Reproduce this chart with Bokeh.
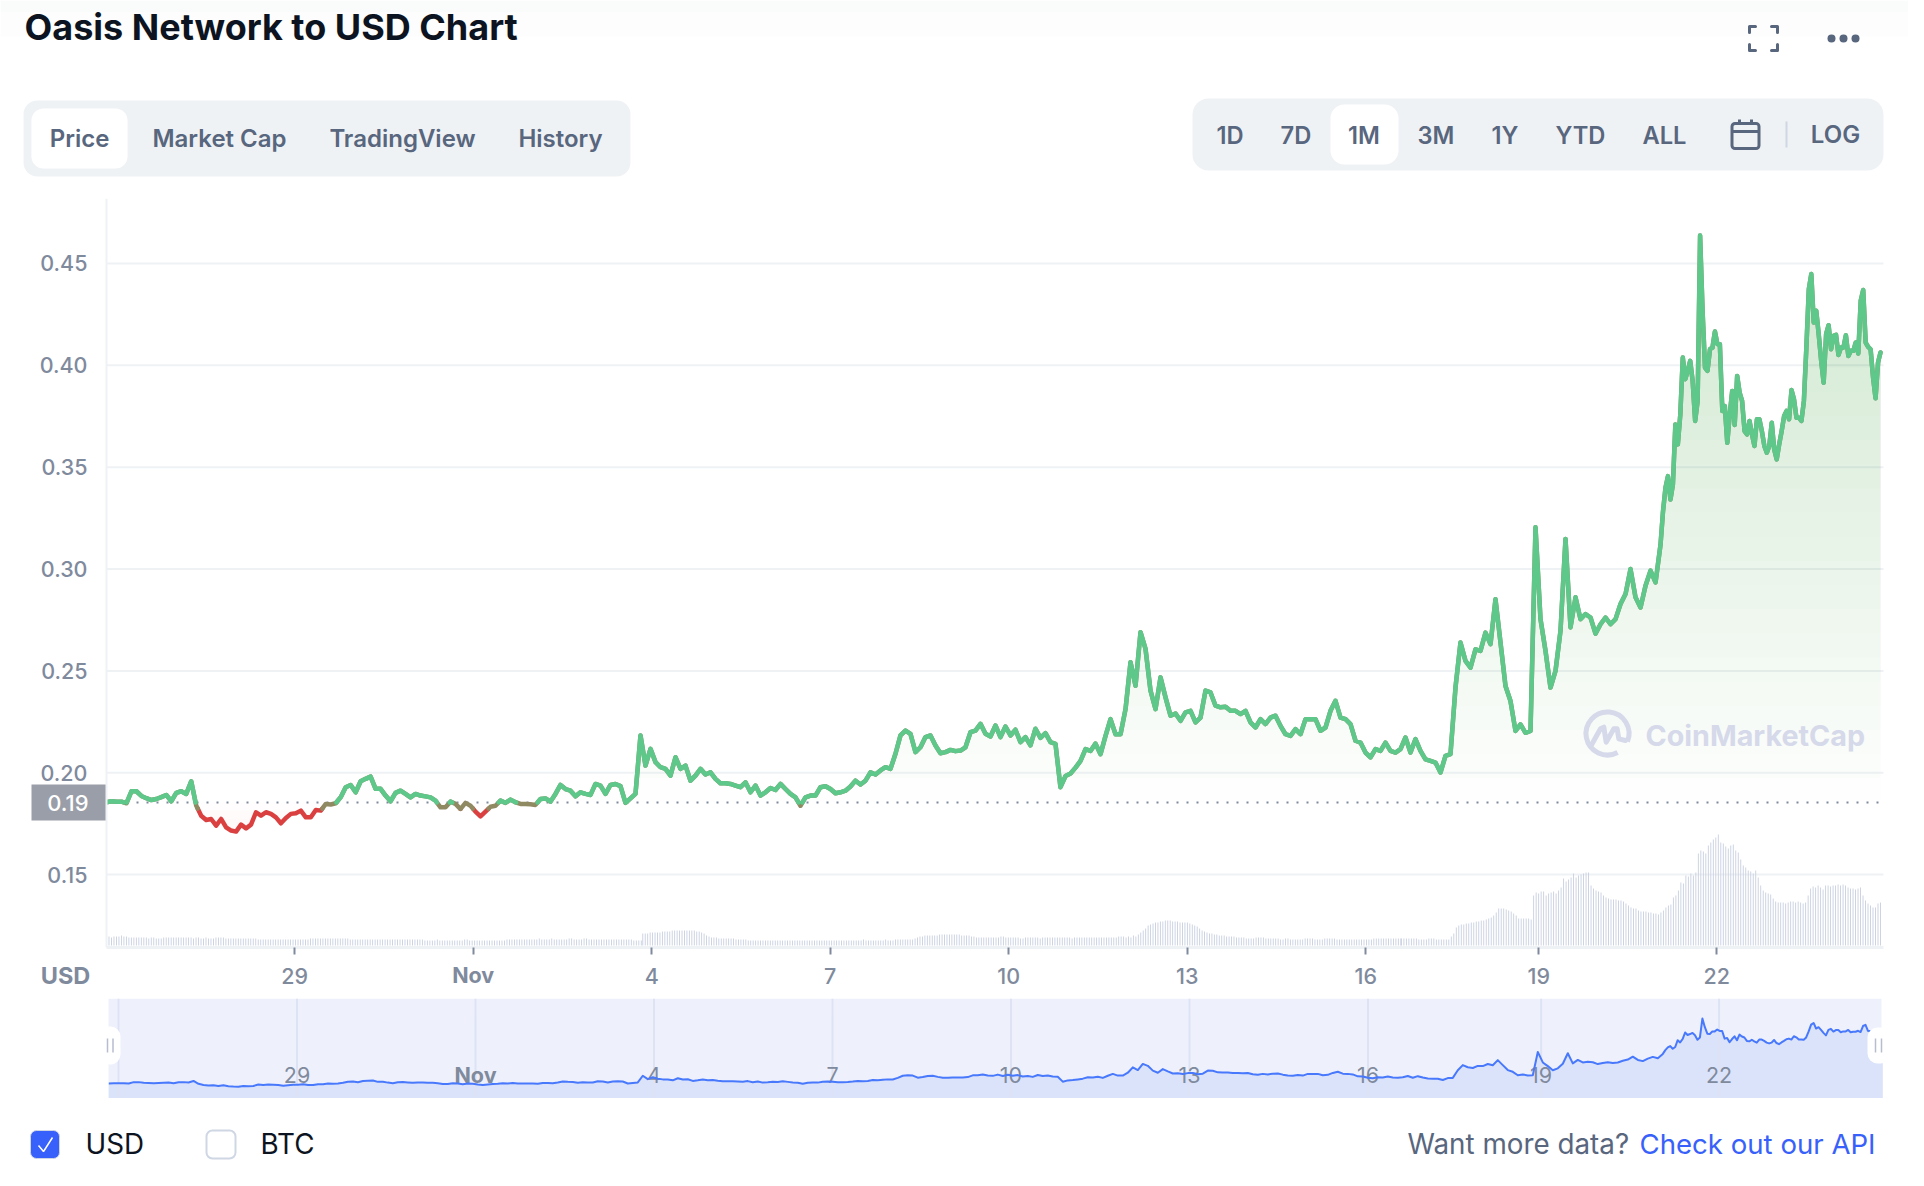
from bokeh.plotting import figure
from bokeh.layouts import column
from bokeh.models import Range1d, FixedTicker, NumeralTickFormatter
from bokeh.core.properties import value
from bokeh.embed import file_html
from bokeh.resources import INLINE
import numpy as np

# ---------- data ----------
title = "Oasis Network to USD Chart"
tabs = ["Price", "Market Cap", "TradingView", "History"]
ranges = ["1D", "7D", "1M", "3M", "1Y", "YTD", "ALL"]
y_ticks = [0.15, 0.20, 0.25, 0.30, 0.35, 0.40, 0.45]
x_ticks = [-3, 0, 3, 6, 9, 12, 15, 17.91, 20.90]          # days from 1 Nov
x_labels = ["29", "Nov", "4", "7", "10", "13", "16", "19", "22"]
base_price = 0.1854

price_a = [.1855,.1860,.1857,.1858,.1850,.1909,.1909,.1886,.1875,.1866,.1871,.1880,.1891,.1860,.1901,.1909,.1896,.1958,.1839,.1789,
 .1768,.1773,.1740,.1773,.1732,.1716,.1711,.1745,.1727,.1745,.1806,.1789,.1806,.1798,.1781,.1752,.1778,.1798,.1801,.1814,
 .1781,.1781,.1817,.1814,.1847,.1844,.1850,.1880,.1929,.1940,.1904,.1958,.1970,.1981,.1921,.1921,.1888,.1860,.1901,.1912,.1896]
price_b = [.1879,.1896,.1888,.1884,.1879,.1863,.1830,.1830,.1858,.1847,.1822,.1852,.1838,.1809,.1786,.1809,.1833,.1838,.1863,.1852,
 .1868,.1855,.1847,.1847,.1845,.1842,.1871,.1874,.1858,.1896,.1940,.1920,.1912,.1884,.1904,.1896,.1891,.1945,.1937,.1896,
 .1940,.1945,.1934,.1852,.1874,.1896,.2183,.2035,.2117,.2052,.2027,.2019,.1986,.2076,.2019,.2035,.1961,.1986,.2019]
price_c = [.1991,.2002,.1970,.1948,.1948,.1945,.1937,.1929,.1953,.1904,.1937,.1888,.1904,.1925,.1915,.1945,.1920,.1896,.1879,.1838,
 .1879,.1888,.1888,.1929,.1934,.1920,.1899,.1904,.1912,.1932,.1961,.1942,.1961,.2002,.1991,.2011,.2027,.2019,.2093,.2183,
 .2207,.2191,.2101,.2125,.2175,.2183,.2134,.2096,.2101,.2112,.2106,.2109,.2125,.2199,.2207,.2240,.2191,.2178,.2232,.2175,
 .2227,.2183,.2211,.2150,.2175,.2134,.2216,.2171,.2194,.2150,.2142,.1929]
price_d = [.1984,.1996,.2025,.2058,.2116,.2107,.2143,.2091,.2181,.2263,.2189,.2189,.2312,.2542,.2427,.2690,.2608,.2403,.2312,.2468,
 .2370,.2280,.2291,.2255,.2296,.2304,.2247,.2271,.2403,.2394,.2329,.2321,.2324,.2304,.2304,.2288,.2304,.2247,.2222,.2263,
 .2239,.2271,.2280,.2230,.2189,.2181,.2214,.2189,.2263,.2263,.2263,.2206,.2222,.2304,.2353,.2271,.2263,.2239,.2157,.2148,
 .2099,.2075,.2116,.2107,.2148,.2107,.2099,.2116,.2173,.2099,.2165,.2107,.2066,.2058,.2050,.2001,.2083,.2091]
price_e = [.2418,.2639,.2549,.2516,.2606,.2598,.2688,.2631,.2852,.2639,.2426,.2352,.2205,.2237,.2196,.2205,.3205,.2754,.2598,.2418,
 .2500,.2697,.3148,.2713,.2861,.2754,.2779,.2762,.2683,.2729,.2762,.2729,.2754,.2828,.2877,.3000,.2861,.2811,.2918,.2992,
 .2934,.3120]
price_f = [.3284,.3399,.3456,.3341,.3415,.3710,.3612,.3759,.4038,.3932,.3973,.4022,.3923,.3727,.3825,.4637,.4268,.3989,.3973,.4079,
 .4087,.4166,.4104,.4104,.3776,.3800,.3620,.3759,.3874,.3707,.3948,.3866,.3825,.3677,.3661,.3727,.3661,.3604,.3735,.3735,
 .3677,.3604,.3571,.3604,.3718,.3587,.3538,.3612,.3677,.3751,.3776,.3735,.3879,.3833,.3743,.3743,.3727,.3825,.4087,.4374,
 .4448,.4210,.4268,.4153,.4022,.3915,.4153,.4197,.4079,.4145,.4150,.4051,.4087,.4087,.4148,.4046,.4071,.4071,.4112,.4058,
 .4317,.4370,.4112,.4091,.4079,.3940,.3838,.4014,.4063]
price_segments = [price_a, price_b, price_c, price_d, price_e, price_f]
segment_days = [(-6.163,-1.138), (-1.054,3.820), (3.904,9.870), (9.955,16.425), (16.509,19.955), (19.997,23.652)]

vol_a = [9,9,8,9,9,9,10,9,9,8,8,8,8,8,8,8,8,7,8,8,7,7,7,8,8,8,8,8,8,8,8,8,8,8,8,7,8,8,7,7,8,7,7,7,8,8,8,8,7,7,7,7,7,7,7,7,7,7,
 7,7,7,6,6,6,6,6,6,6,6,6,6,6,6,6,6,6,6,6,6,6,6,6,7,7,7,7,7,7,7,7,7,7,7,7,7,7,7,7,6,6,6,6,6,6,6,6,6,6,6,6,6,6,6,6,6,6,6,6,6,6,6,6,6,6,6,6,6,6,
 5,5,5,5,5,6,5,5,5,5,5,5,5,5,5,5,6,6,5,5,5,5,5,5,5,5,5,5,5,5,5,5,5,6,6,6,6,6,6,6,6,6,6,6,6,6,7,6,6,6,6,7,6,6,6,6,6,6,7,7,6,6,6,6,7,7,6,6,6,6,6,6,6,6,6,6,6,6,6,6,6,6,6,6,5,5,5,5]
vol_b = [12,12,12,13,13,13,13,13,14,14,14,14,15,15,15,15,15,15,15,15,15,15,14,14,
 13,12,10,9,8,8,8,7,7,7,7,7,7,7,6,6,6,6,6,5,
 5,5,5,5,5,5,5,5,5,5,5,5,5,5,5,5,5,5,5,5,5,5,5,5,5,5,5,5,5,5,5,5,5,5,5,5,5,5,5,5,5,5,5,5,5,5,6,5,5,5,5,5,5,5,5,6,5,5,5,6,6,6,6,6,6,6,
 6,7,8,9,9,10,10,10,10,10,10,11,11,11,11,11,11,11,11,11,10,10,10,10,
 9,9,8,8,8,8,8,8,8,8,8,8,9,9,8,8,8,8,8,8,7,7,8,8,8,8,8,8,7,8,8,8,8,8,8,8,8,8,8,8,8,7,8,8,8,8,8,8,8,8,8,8,8,8,8,8,8,8,8,8,
 9,9,9,8,9,8,10,9,11,13,15,17,20,21,22,23,23,24,24,25,
 25,25,24,24,24,23,23,23,23,22,21,20,19,17,15,14,13,12,12,11,11,10,10,10,9,9,9,9,8,8,8,8,
 7,7,7,7,8,8,8,8,7,7,7,7,7,7,6,6,7,7,6,6,6,6,6,6,7,7,7,7,6,6,6,6,7,7,7,7,7,6,6,6,6,6,6,6,6,6,6,6,6,6,6,6,7,7,7,7,7,7,7,7,7,7,7,7]
vol_c = [7,7,7,7,7,7,7,6,6,6,6,7,7,7,6,6,6,6,6,6,
 9,12,18,20,21,21,22,22,23,23,24,24,25,25,26,27,28,30,33,37,37,37,36,35,34,32,30,27,27,27,27,27,26,
 50,53,52,54,54,50,52,53,54,52,55,58,67,64,66,68,72,68,70,71,72,73,73,60,57,55,54,53,50,48,
 47,46,46,46,45,45,44,42,40,38,37,37,35,34,34,34,33,33,32,32,31,33,35,38,40,41,48,50,55,63,62,70,69,
 72,70,73,92,95,94,92,100,103,106,108,111,103,102,99,97,100,101,95,93,86,80,78,75,74,72,75,68,60,55,
 53,52,51,47,44,43,43,43,42,43,44,44,43,44,43,42,43,50,57,59,58,60,58,56,60,
 60,59,60,60,61,60,61,60,58,57,57,56,57,58,50,45,42,40,38,38,42,43]
volume_segments = [vol_a, vol_b, vol_c]
volume_days = [(-6.163,2.825), (2.85,15.59), (15.6,23.652)]

# ---------- page geometry helpers (decoration only) ----------
INK, SLATE, GREY, PILL = "#0d1421", "#58667e", "#808a9d", "#eff2f5"
BLUE = "#3861fb"
FONT, MED, SEMI = "Inter", "Inter Medium", "Inter SemiBold"
W = 1908

def day_main(px): return (px - 472.7) / 59.5
def val_main(py): return 0.5791 - py / 2037
def day_nav(px): return (px - 475.0) / 59.5
def val_nav(py): return 0.185 + (1083 - py) / 233

price_x = np.concatenate([np.linspace(a, b, len(s)) for s, (a, b) in zip(price_segments, segment_days)])
price_y = np.concatenate([np.array(s) for s in price_segments])
vol_x = np.concatenate([np.linspace(a, b, len(s)) for s, (a, b) in zip(volume_segments, volume_days)])
vol_y = np.concatenate([np.array(s, dtype=float) for s in volume_segments])

def split_at_base(x, y, base):
    up_x, up_y, dn_x, dn_y = [], [], [], []
    cx, cy = [x[0]], [y[0]]
    above = y[0] >= base
    for i in range(1, len(x)):
        now = y[i] >= base
        if now != above:
            t = (base - y[i-1]) / (y[i] - y[i-1])
            xc = x[i-1] + t * (x[i] - x[i-1])
            cx.append(xc); cy.append(base)
            (up_x if above else dn_x).append(cx); (up_y if above else dn_y).append(cy)
            cx, cy = [xc], [base]
            above = now
        cx.append(x[i]); cy.append(y[i])
    (up_x if above else dn_x).append(cx); (up_y if above else dn_y).append(cy)
    return up_x, up_y, dn_x, dn_y

def blank(width, height, x_range, y_range):
    f = figure(width=width, height=height, x_range=x_range, y_range=y_range, output_backend="svg",
               toolbar_location=None, min_border=0, outline_line_color=None, frame_align=False)
    f.axis.visible = False
    f.grid.visible = False
    return f

def txt(f, x, y, s, size, color, font=FONT, style="normal", align="center", base="middle"):
    f.text([x], [y], text=[s], text_font=value(font), text_font_size=f"{size}px", text_color=color,
           text_font_style=style, text_align=align, text_baseline=base)

# ---------- header (coordinates are page pixels) ----------
head = blank(W, 198, Range1d(0, W), Range1d(198, 0))
head.quad(left=[0], right=[W], top=[0], bottom=[12], fill_color="#fafbfb", line_color=None)
head.quad(left=[0], right=[W], top=[12], bottom=[36], fill_color="#fdfdfe", line_color=None)
txt(head, 24, 26, title, 36, INK, style="bold", align="left")
head.quad(left=[23], right=[630], top=[100], bottom=[176], fill_color=PILL, line_color=None, border_radius=14)
head.quad(left=[31], right=[127], top=[108], bottom=[168], fill_color="white", line_color=None, border_radius=12)
for s, cx in zip(tabs, [79, 219, 402, 560]):
    txt(head, cx, 138, s, 24, SLATE, font=SEMI)
head.quad(left=[1192], right=[1883], top=[98], bottom=[170], fill_color=PILL, line_color=None, border_radius=16)
head.quad(left=[1330], right=[1398], top=[104], bottom=[164], fill_color="white", line_color=None, border_radius=14)
for s, cx in zip(ranges, [1229.5, 1295.5, 1363.5, 1435.5, 1504.5, 1580, 1664]):
    txt(head, cx, 135, s, 23.7, SLATE, font=SEMI)
txt(head, 1835, 134, "LOG", 24, SLATE, font=SEMI)
head.segment([1786], [121], [1786], [147], line_color="#cfd6e4", line_width=2)
# calendar icon
head.quad(left=[1731.5], right=[1758.5], top=[123], bottom=[148], fill_color=None, line_color=SLATE, line_width=3, border_radius=3)
head.segment([1731.5, 1739, 1751], [131, 119, 119], [1758.5, 1739, 1751], [131, 124, 124], line_color=SLATE, line_width=3)
# full screen icon
corner_x = [[1749, 1749, 1755], [1771, 1777, 1777], [1749, 1749, 1755], [1771, 1777, 1777]]
corner_y = [[32, 26, 26], [26, 26, 32], [44, 50, 50], [50, 50, 44]]
head.multi_line(corner_x, corner_y, line_color=SLATE, line_width=3, line_join="round", line_cap="round")
head.scatter([1831, 1843, 1855], [38, 38, 38], size=8, marker="circle", fill_color=SLATE, line_color=None)

# ---------- main chart ----------
main = figure(width=W, height=800, x_range=Range1d(day_main(0), day_main(W)),
              y_range=Range1d(val_main(998), val_main(198)), output_backend="svg", toolbar_location=None,
              min_border=0, outline_line_color=None, background_fill_color="white", frame_align=False)
main.extra_y_ranges = {"volume": Range1d(-53, 747)}

main.xgrid.visible = False
main.ygrid.visible = False
main.segment([day_main(106)] * len(y_ticks), y_ticks, [day_main(1883)] * len(y_ticks), y_ticks,
             line_color=PILL, line_width=2)

main.yaxis.fixed_location = day_main(106)
main.yaxis.bounds = (val_main(947), val_main(198))
main.yaxis.ticker = FixedTicker(ticks=y_ticks)
main.yaxis.formatter = NumeralTickFormatter(format="0.00")
main.yaxis.major_tick_line_color = None
main.yaxis.minor_tick_line_color = None
main.yaxis.axis_line_color = PILL
main.yaxis.axis_line_width = 2
main.yaxis.major_label_standoff = 13
main.yaxis.major_label_text_font = MED
main.yaxis.major_label_text_font_size = "21.5px"
main.yaxis.major_label_text_color = GREY

main.xaxis.fixed_location = val_main(947)
main.xaxis.bounds = (day_main(106), day_main(1883))
main.xaxis.ticker = FixedTicker(ticks=x_ticks)
main.xaxis.major_label_overrides = {t: ("" if s == "Nov" else s) for t, s in zip(x_ticks, x_labels)}
main.xaxis.minor_tick_line_color = None
main.xaxis.major_tick_in = 0
main.xaxis.major_tick_out = 7
main.xaxis.major_tick_line_color = GREY
main.xaxis.major_tick_line_width = 2
main.xaxis.axis_line_color = PILL
main.xaxis.axis_line_width = 3
main.xaxis.major_label_standoff = 13
main.xaxis.major_label_text_font = MED
main.xaxis.major_label_text_font_size = "21.5px"
main.xaxis.major_label_text_color = GREY

# gradient fills, built from nested translucent areas
levels = np.linspace(base_price, 0.47, 25)[:-1]
for lv in levels:
    main.varea(price_x, y1=np.maximum(price_y, lv), y2=np.full_like(price_y, lv), fill_color="#50c870", fill_alpha=0.0115)
for lv in [base_price, base_price - 0.004, base_price - 0.008]:
    main.varea(price_x, y1=np.minimum(price_y, lv), y2=np.full_like(price_y, lv), fill_color="#ea3943", fill_alpha=0.012)

# watermark
wm = "#d5d9e9"
main.arc([day_main(1607)], [val_main(733)], radius=21.5, radius_units="screen",
         start_angle=np.deg2rad(-22), end_angle=np.deg2rad(-62), direction="anticlock",
         line_color=wm, line_width=5)
m_x = [452, 480, 490, 497, 520, 530, 535, 555]
m_y = [705, 655, 650, 695, 655, 655, 685, 690]
main.line([day_main(1440 + v / 3) for v in m_x], [val_main(510 + v / 3) for v in m_y], line_color=wm, line_width=5,
          line_join="round", line_cap="round")
txt(main, day_main(1645), val_main(735), "CoinMarketCap", 28.7, wm, style="bold", align="left")

# volume
main.vbar(x=vol_x, top=vol_y, bottom=0, width=0.9 / 59.5, fill_color="#c8cfe0", line_color=None, y_range_name="volume")

# baseline
main.line([day_main(106), day_main(1883)], [base_price, base_price], line_color="#808a9d",
          line_width=2, line_dash="2 8")

# price: red below the baseline, blending through brown just under it, green above
near = base_price - 0.003
ax, ay, rx, ry = split_at_base(price_x, price_y, near)
ux, uy, _, _ = split_at_base(price_x, price_y, base_price)
main.multi_line(rx, ry, line_color="#d9403f", line_width=4.5, line_join="round", line_cap="round")
main.multi_line(ax, ay, line_color="#8f8a62", line_width=4.5, line_join="round", line_cap="round")
main.multi_line(ux, uy, line_color="#5ec78a", line_width=4.5, line_join="round", line_cap="round")

# price tag and labels beside the axes
main.quad(left=[day_main(31)], right=[day_main(106)], top=[val_main(784)], bottom=[val_main(820)], fill_color="#9a9ea8", line_color=None)
txt(main, day_main(88), val_main(802), "0.19", 22, "white", font=MED, align="right")
txt(main, day_main(472.7), val_main(974.5), "Nov", 21.5, GREY, style="bold")
txt(main, day_main(65), val_main(974.5), "USD", 23.5, GREY, style="bold")

# ---------- navigator ----------
nav = blank(W, 100, Range1d(day_nav(0), day_nav(W)), Range1d(val_nav(1098), val_nav(998)))
nav.quad(left=[day_nav(108)], right=[day_nav(1881)], top=[val_nav(998)], bottom=[val_nav(1098)], fill_color="#eef1fc", line_color=None)
nav.varea(price_x, y1=price_y, y2=np.full_like(price_y, val_nav(1098)), fill_color="#dbe3fb")
grid_days = [-6] + x_ticks
nav.segment(grid_days, [val_nav(998)] * len(grid_days), grid_days, [val_nav(1098)] * len(grid_days), line_color="#dde3f5", line_width=2)
for t, s in zip(x_ticks, x_labels):
    nav.text([t], [val_nav(1074)], text=[s], text_font=value(FONT), text_font_style="bold" if s == "Nov" else "normal",
             text_font_size="21.5px", text_color=GREY, text_align="center", text_baseline="middle")
nav.line(price_x, price_y, line_color="#4878fb", line_width=2, line_join="round")
for a, b, t0, t1 in [(99, 120, 1026, 1064), (1867, 1890, 1027, 1063)]:
    nav.quad(left=[day_nav(a)], right=[day_nav(b)], top=[val_nav(t0)], bottom=[val_nav(t1)], fill_color="white",
             line_color=None, border_radius=10)
bars_x = [107, 112.5, 1875, 1881]
nav.segment([day_nav(v) for v in bars_x], [val_nav(1038)] * 4, [day_nav(v) for v in bars_x], [val_nav(1052)] * 4,
            line_color="#b7bdcf", line_width=1.5)

# ---------- footer (coordinates are page pixels) ----------
foot = blank(W, 80, Range1d(0, W), Range1d(1178, 1098))
foot.quad(left=[30], right=[59], top=[1130], bottom=[1158], fill_color=BLUE, line_color="#cfd6e4", line_width=1, border_radius=6)
foot.line([38, 43, 52], [1145, 1151, 1137], line_color="white", line_width=1.5)
txt(foot, 85, 1143, "USD", 27.8, INK, align="left")
foot.quad(left=[206], right=[235], top=[1130], bottom=[1158], fill_color="white", line_color="#cfd6e4", line_width=2, border_radius=6)
txt(foot, 260, 1143, "BTC", 27.8, INK, align="left")
txt(foot, 1407, 1143, "Want more data?", 27.8, SLATE, align="left")
txt(foot, 1639, 1143, "Check out our API", 27.6, BLUE, align="left")

page = column(head, main, nav, foot, spacing=0)
open("out.html", "w").write(file_html(page, INLINE))
